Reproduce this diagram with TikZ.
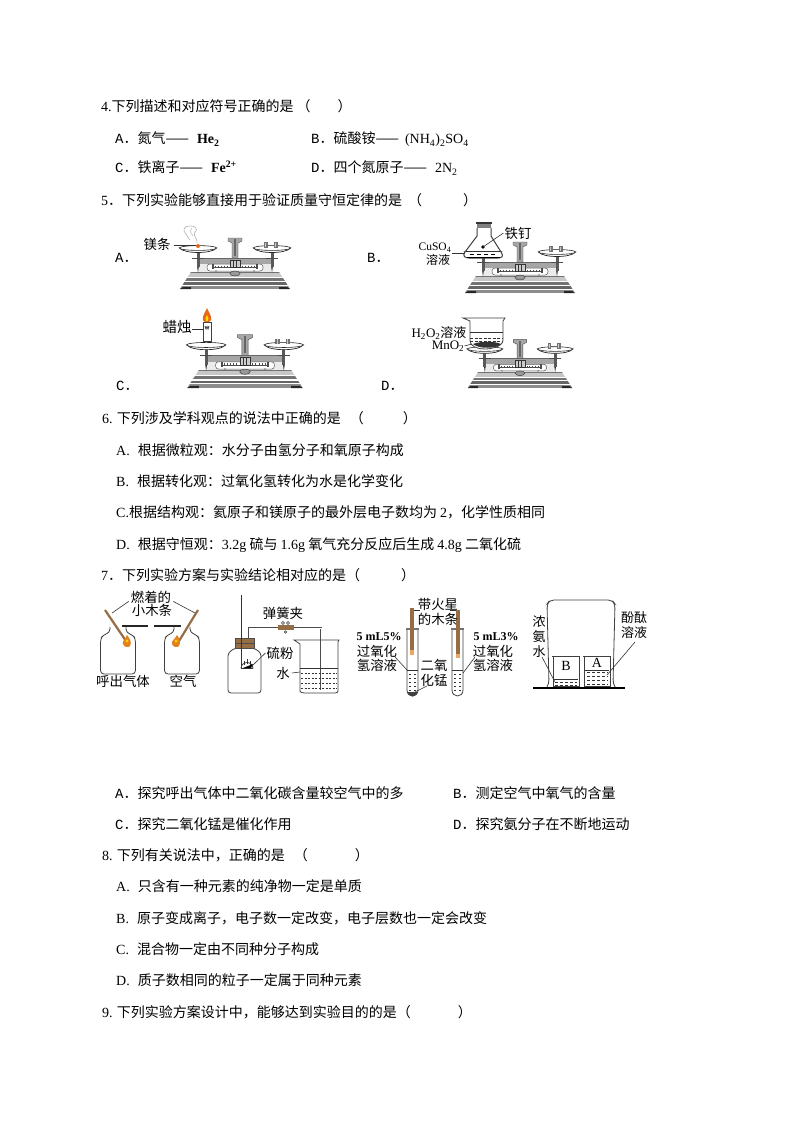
\documentclass[tikz,border=0pt]{standalone}
\usepackage{fontspec}
\setmainfont{Liberation Serif}
\setmonofont{Liberation Mono}
\newfontfamily\zh{Noto Sans CJK SC}
\newcommand{\lat}[1]{{\rmfamily #1}}
\newcommand{\opt}[1]{{\ttfamily #1}}
\newcommand{\dn}[1]{\textsubscript{#1}}
\definecolor{wood}{RGB}{150,110,70}
\definecolor{flame}{RGB}{225,130,30}
\tikzset{
  tx/.style={anchor=base west,inner sep=0pt,font=\fontsize{14}{16}\selectfont\zh},
  lab/.style={anchor=center,inner sep=0pt,font=\fontsize{13.4}{14}\selectfont\zh},
  thinl/.style={line width=0.6pt,black!80},
  glass/.style={line width=0.8pt,black!75},
  balance/.pic={
    \begin{scope}
      \clip (-44,-17) -- (44,-17) -- (55,0) -- (-55,0) -- cycle;
      \fill[black!22] (-55,-17) rectangle (55,0);
      \fill[black!55] (-55,-17) rectangle (55,-16);
      \fill[white] (-55,-12) rectangle (55,-11);
      \fill[black!55] (-55,-11) rectangle (55,-8.5);
      \fill[white] (-55,-8.5) rectangle (55,-7);
      \fill[black!60] (-55,-7) rectangle (55,-4.5);
      \fill[white] (-55,-4.5) rectangle (55,-3.5);
      \fill[black!45] (-55,-3.5) rectangle (55,0);
    \end{scope}
    \fill[black!85] (-55,0) -- (-52,-2) -- (-44,-2) -- (-44,0) -- cycle;
    \fill[black!85] (55,0) -- (52,-2) -- (44,-2) -- (44,0) -- cycle;
    \fill[black!8] (-36,-31) rectangle (36,-17);
    \fill[black!35] (-36,-31) rectangle (36,-25);
    \draw[black!60,line width=0.7pt] (-36,-31) -- (36,-31);
    \draw[black!65,line width=0.5pt,fill=white,rounded corners=3pt] (-28,-25) rectangle (28,-18);
    \foreach \t in {-20,-17,...,20} {\draw[black!70,line width=0.3pt] (\t,-23.5) -- (\t,-21.5);}
    \draw[black!70,line width=0.5pt] (-22,-21.5) -- (22,-21.5);
    \fill[black!70] (-23,-25) rectangle (-21,-20);
    \fill[black!70] (21,-25) rectangle (23,-20);
    \fill[black!50] (-19,-18) circle (0.9);
    \fill[black!50] (19,-18) circle (0.9);
    \draw[black!70,fill=black!35,line width=0.4pt] (-7,-51) -- (7,-51) -- (7,-48) -- (3,-46) -- (3,-31) -- (-3,-31) -- (-3,-46) -- (-7,-48) -- cycle;
    \fill[black!60] (-1,-50) rectangle (1,-33);
    \draw[black!80,fill=black!20,line width=0.4pt] (-5,-29) rectangle (5,-22);
    \draw[black!80,line width=0.4pt] (-1.5,-29) -- (-1.5,-22) (1.5,-29) -- (1.5,-22);
    \draw[black!80,fill=black!40,line width=0.4pt] (0,-15.5) ellipse (5 and 2.5);
    \foreach \s in {-1,1} {
      \fill[black!65] (\s*37-1.5,-39) rectangle (\s*37+1.5,-22);
      \fill[black!80] (\s*37-0.8,-22) -- (\s*37+0.8,-22) -- (\s*37,-16) -- cycle;
      \draw[black!70,line width=0.5pt] (\s*37-6,-31) -- (\s*37+6,-31);
      \draw[black!85,fill=white,line width=0.7pt] (\s*37-18.5,-41) .. controls (\s*37-14,-35) and (\s*37+14,-35) .. (\s*37+18.5,-41) -- cycle;
      \draw[black!85,fill=white,line width=0.6pt] (\s*37,-41) ellipse (18.5 and 2.4);
    }
    \fill[black!55] (29,-47) rectangle (33,-41.5);
    \fill[black!55] (39,-47) rectangle (43,-41.5);
    \fill[black!20] (30,-46.5) rectangle (31,-42);
    \fill[black!20] (40,-46.5) rectangle (41,-42);
    \draw[black!60,line width=0.4pt] (33,-44) -- (39,-44);
  },
  bottle/.pic={
    \draw[glass,fill=white,rounded corners=3.5pt] (-8,-47) -- (-8,-41.5) -- (-15,-39) -- (-17.5,-35) -- (-17.5,0) -- (17.5,0) -- (17.5,-35) -- (15,-39) -- (8,-41.5) -- (8,-47);
  },
}
\begin{document}
\begin{tikzpicture}[x=1pt,y=-1pt]
\useasboundingbox (0,0) rectangle (794,1123);
\fill[white] (0,0) rectangle (794,1123);

% --- question text ---
\node[tx] (q4) at (101,112) {\lat{4.}下列描述和对应符号正确的是\hspace{3pt}（\hspace{27pt}）};
\node[tx] (q4a) at (115,144) {\opt{A}．氮气——\hspace{8pt}\lat{\bfseries He\dn{2}}};
\node[tx] (q4b) at (311,144) {\opt{B}．硫酸铵——\hspace{6pt}\lat{(NH\dn{4})\dn{2}SO\dn{4}}};
\node[tx] (q4c) at (115,173) {\opt{C}．铁离子——\hspace{8pt}\lat{\bfseries Fe\textsuperscript{2+}}};
\node[tx] (q4d) at (311,173) {\opt{D}．四个氮原子——\hspace{8pt}\lat{2N\dn{2}}};
\node[tx] (q5) at (101,206) {\lat{5}．下列实验能够直接用于验证质量守恒定律的是\hspace{6pt}（\hspace{41pt}）};
\node[tx] (l5a) at (115,262) {\opt{A}．};
\node[tx] (l5b) at (367,262) {\opt{B}．};
\node[tx] (l5c) at (116,390) {\opt{C}．};
\node[tx] (l5d) at (381,390) {\opt{D}．};

\node[tx] (q6) at (102,423) {\lat{6.} 下列涉及学科观点的说法中正确的是\hspace{9pt}（\hspace{39pt}）};
\node[tx] (q6a) at (116,455) {\lat{A.}\hspace{5pt} 根据微粒观：水分子由氢分子和氧原子构成};
\node[tx] (q6b) at (116,486) {\lat{B.}\hspace{5pt} 根据转化观：过氧化氢转化为水是化学变化};
\node[tx] (q6c) at (116,517) {\lat{C.}根据结构观：氦原子和镁原子的最外层电子数均为 \lat{2}，化学性质相同};
\node[tx] (q6d) at (116,549) {\lat{D.}\hspace{5pt} 根据守恒观：\lat{3.2g} 硫与 \lat{1.6g} 氧气充分反应后生成 \lat{4.8g} 二氧化硫};
\node[tx] (q7) at (101,580) {\lat{7}．下列实验方案与实验结论相对应的是（\hspace{41pt}）};

\node[tx] (q7a) at (115,798) {\opt{A}．探究呼出气体中二氧化碳含量较空气中的多};
\node[tx] (q7b) at (453,798) {\opt{B}．测定空气中氧气的含量};
\node[tx] (q7c) at (115,829) {\opt{C}．探究二氧化锰是催化作用};
\node[tx] (q7d) at (453,829) {\opt{D}．探究氨分子在不断地运动};

\node[tx] (q8) at (102,860) {\lat{8.} 下列有关说法中，正确的是\hspace{9pt}（\hspace{47pt}）};
\node[tx] (q8a) at (116,891) {\lat{A.}\hspace{5pt} 只含有一种元素的纯净物一定是单质};
\node[tx] (q8b) at (116,923) {\lat{B.}\hspace{5pt} 原子变成离子，电子数一定改变，电子层数也一定会改变};
\node[tx] (q8c) at (116,954) {\lat{C.}\hspace{5pt} 混合物一定由不同种分子构成};
\node[tx] (q8d) at (116,985) {\lat{D.}\hspace{5pt} 质子数相同的粒子一定属于同种元素};
\node[tx] (q9) at (102,1017) {\lat{9.} 下列实验方案设计中，能够达到实验目的的是（\hspace{47pt}）};

% --- balances ---
\pic at (235,289) {balance};
\pic[scale=1.05] at (245,388) {balance};
\pic at (520,293) {balance};
\pic[scale=0.95] at (520,388) {balance};

% A: magnesium
\node[lab] (mg) at (157,244) {镁条};
\coordinate (mgb) at (198,245);
\draw[thinl] (mg.east) ++(3,1) -- (mgb);
\fill[flame!80!red] (198,246) circle (2);
\draw[black!35,line width=0.5pt] (197,243) .. controls (198,238) and (192,236) .. (195,232) .. controls (199,229) and (194,225) .. (190,226) .. controls (184,225) and (182,231) .. (186,234) .. controls (189,236) and (187,239) .. (190,240);
\draw[black!30,line width=0.4pt] (192,228) .. controls (189,231) and (191,234) .. (193,236);

% B: flask
\draw[glass,line width=1pt,fill=white] (477,228) -- (477,236) -- (465,252) .. controls (462,256) and (465,258) .. (469,258) -- (498,258) .. controls (502,258) and (504,256) .. (501,252) -- (491,236) -- (491,228);
\fill[black!80] (476,222) rectangle (492,224);
\fill[black!50] (477,224) rectangle (491,228);
\draw[thinl] (466,251) -- (500,251);
\foreach \xx in {470,477,484,491} {\draw[black,line width=0.6pt] (\xx,254.5) -- (\xx+4,254.5);}
\draw[black,line width=1.6pt] (467,257.5) -- (500,257.5);
\node[lab] (nail) at (518,233) {铁钉};
\coordinate (nailb) at (483,247);
\fill[black] (nailb) circle (1.8);
\draw[thinl] (nail.west) ++(-1,0) -- (nailb);
\node[lab,font=\fontsize{11.5}{12}\selectfont\rmfamily] (cu) at (435,248) {CuSO\dn{4}};
\node[lab,font=\fontsize{12}{12}\selectfont\zh] (cusol) at (438,260) {溶液};
\coordinate (cub) at (465,253);
\draw[thinl] (452,253) -- (cub);

% C: candle
\node[lab,font=\fontsize{14.5}{16}\selectfont\zh] (wax) at (177,327) {蜡烛};
\draw[glass,fill=white] (203,322) rectangle (211,341);
\draw[thinl] (wax.east) ++(0,2) -- (203,329);
\fill[flame!80!red] (207,308) .. controls (209,313) and (212,316) .. (211,320) .. controls (210,323) and (204,323) .. (203,320) .. controls (202,316) and (205,313) .. (207,308);
\fill[yellow!80!orange] (207,315) .. controls (208.5,317) and (209,319) .. (208,321) -- (206,321) .. controls (205,319) and (205.5,317) .. (207,315);
\draw[glass] (205,326) -- (206,329) -- (207,326.5) -- (208,329) -- (209,326);

% D: beaker
\draw[glass,fill=white] (463,318) -- (505,318) -- (503,321) -- (503,340) .. controls (503,347) and (490,349) .. (485,349) .. controls (478,349) and (470,347) .. (470,340) -- (470,321) -- cycle;
\draw[thinl] (470,332) -- (503,332);
\draw[thinl,dash pattern=on 3pt off 1.5pt] (470,338) -- (503,338);
\draw[thinl,dash pattern=on 3pt off 1.5pt] (470,341) -- (503,341);
\fill[black!80] (473,344) .. controls (480,341) and (495,341) .. (501,344) .. controls (497,349) and (478,349) .. (473,344) -- cycle;
\node[lab,font=\fontsize{13}{13}\selectfont\zh] (h2o2) at (439,333) {\lat{H\dn{2}O\dn{2}}溶液};
\node[lab,font=\fontsize{13}{13}\selectfont\rmfamily] (mno2) at (448,346) {MnO\dn{2}};
\draw[thinl] (mno2.east) -- (472,344);

% --- Q7 first apparatus ---
\pic at (118,674) {bottle};
\pic at (182,674) {bottle};
\fill[black!85] (122,624.5) rectangle (148,626.5);
\fill[black!85] (154,624.5) rectangle (181,626.5);
\draw[wood,line width=2.2pt] (105,610) -- (126,641);
\draw[wood,line width=2.2pt] (198,610) -- (179,641);
\fill[flame] (127,635) .. controls (130,639) and (132,642) .. (130,646) .. controls (128,648) and (124,647) .. (123,644) .. controls (122,641) and (125,640) .. (127,635);
\fill[flame] (177,635) .. controls (180,639) and (181,642) .. (179,646) .. controls (177,648) and (173,647) .. (172,644) .. controls (171,641) and (175,639) .. (177,635);
\fill[yellow!70!orange] (127,641) circle (1.6);
\fill[yellow!70!orange] (176,641) circle (1.6);
\node[lab] (burn1) at (151,597) {燃着的};
\node[lab] (burn2) at (152,610) {小木条};
\draw[thinl] (burn1.south west) ++(-2,-2) -- (112,613);
\draw[thinl] (burn1.south east) ++(2,-2) -- (195,613);
\node[lab] (exh) at (123,681) {呼出气体};
\node[lab] (air) at (183,681) {空气};

% --- Q7 second apparatus ---
\draw[glass,fill=white,rounded corners=3pt] (235,648) -- (228,653) -- (228,693) -- (261,693) -- (261,653) -- (254,648) -- cycle;
\fill[wood] (235,638) rectangle (254,648);
\draw[black!70,line width=0.6pt] (235,638) rectangle (254,648);
\draw[black!70,line width=0.5pt] (235,643) -- (254,643);
\draw[thinl] (241,595) -- (241,668);
\draw[glass] (241,668.5) arc[start angle=180,end angle=0,x radius=6,y radius=-6];
\draw[thinl] (241,668.5) -- (253,668.5);
\fill[black] (243,668) -- (253,664) -- (251,668) -- cycle;
\draw[thinl] (244,665) -- (244,661) (247,664) -- (247,659) (250,665) -- (250,661);
\draw[black!70,line width=2pt] (249,638) -- (249,628) -- (321,628) -- (321,690);
\draw[white,line width=0.8pt] (249,638) -- (249,628) -- (321,628) -- (321,690);
\fill[wood] (278,625) rectangle (294,630);
\draw[thinl,fill=white] (283,623) circle (1.5) (288,623) circle (1.5) (285.5,632) circle (1.3);
\node[lab] (clip) at (283,613) {弹簧夹};
\node[lab] (s) at (280,653) {硫粉};
\coordinate (sb) at (252,666);
\draw[thinl] (s.west) ++(-1,0) -- (sb);
\draw[glass] (294,640) -- (339,640) -- (338,642) -- (338,691) .. controls (338,692) and (337,693) .. (335,693) -- (304,693) .. controls (302,693) and (300,692) .. (300,691) -- (300,644) -- cycle;
\draw[thinl] (300,668) -- (338,668);
\foreach \yy in {673,678,683,688} {\draw[thinl,dash pattern=on 2pt off 1.5pt] (301,\yy) -- (337,\yy);}
\node[lab] (water) at (283,673) {水};
\draw[thinl] (water.east) ++(2,0) -- (300,672);

% --- Q7 third apparatus ---
\foreach \xa/\xb in {407/418,452/463} {
  \draw[glass,fill=white] (\xa,629) -- (\xa,690) .. controls (\xa,698) and (\xb,698) .. (\xb,690) -- (\xb,629);
  \fill[black!55] (\xa-1,628) rectangle (\xb+1,630);
  \draw[thinl] (\xa,670) -- (\xb,670);
  \foreach \yy in {674,678,682,686,690} {\draw[thinl,dash pattern=on 2pt off 1.2pt] (\xa+2,\yy) -- (\xa+4,\yy) (\xb-4,\yy) -- (\xb-2,\yy);}
}
\fill[wood] (410,608) rectangle (414,650);
\fill[flame!70!white] (410,650) rectangle (414,655);
\fill[wood] (456,610) rectangle (460,654);
\fill[flame!70!white] (456,654) rectangle (460,658);
\fill[black!75] (407.5,692) .. controls (409,698) and (416,698) .. (417.5,692) -- cycle;
\draw[thinl] (414,610) -- (420,610) (450,610) -- (456,610);
\node[lab] (spl1) at (438,604) {带火星};
\node[lab] (spl2) at (438,619) {的木条};
\node[lab,font=\fontsize{12}{13}\selectfont\rmfamily\bfseries] (m5) at (379,637) {5 mL5\%};
\node[lab] (t51) at (377,651) {过氧化};
\node[lab] (t52) at (377,665) {氢溶液};
\draw[thinl] (395,657) -- (408,671);
\node[lab] (mn1) at (434,665) {二氧};
\node[lab] (mn2) at (434,680) {化锰};
\draw[thinl] (427,686) -- (415,692);
\node[lab,font=\fontsize{12}{13}\selectfont\rmfamily\bfseries] (m3) at (496,637) {5 mL3\%};
\node[lab] (t31) at (493,651) {过氧化};
\node[lab] (t32) at (493,665) {氢溶液};
\draw[thinl] (475,657) -- (463,673);

% --- Q7 fourth apparatus ---
\draw[glass,rounded corners=4pt] (547,687) -- (549,684) -- (547,604) -- (550,600) -- (612,600) -- (615,604) -- (613,684) -- (615,687);
\draw[black,line width=2pt] (533,688) -- (625,688);
\foreach \xa/\xb/\lev in {553/579/679,584/610/670} {
  \draw[glass] (\xa-1,656) -- (\xb+1,656);
  \draw[glass] (\xa,656) -- (\xa,686) -- (\xb,686) -- (\xb,656);
  \draw[thinl] (\xa+1,\lev) -- (\xb-1,\lev);
}
\foreach \yy in {682,685} {\draw[thinl,dash pattern=on 3pt off 2pt] (555,\yy) -- (577,\yy);}
\foreach \yy in {672,676,680,684} {\draw[thinl,dash pattern=on 3pt off 2pt] (587,\yy) -- (608,\yy);}
\node[lab,font=\fontsize{14}{15}\selectfont\rmfamily] (bb) at (566,666) {B};
\node[lab,font=\fontsize{14}{15}\selectfont\rmfamily] (aa) at (597,663) {A};
\node[lab,font=\fontsize{13}{15}\selectfont\zh,align=center] (nh3) at (539,637) {浓\\氨\\水};
\draw[thinl] (542,657) -- (555,682);
\node[lab,font=\fontsize{13}{15.5}\selectfont\zh,align=center] (phe) at (634,625) {酚酞\\溶液};
\draw[thinl] (635,642) -- (607,675);
\end{tikzpicture}
\end{document}
